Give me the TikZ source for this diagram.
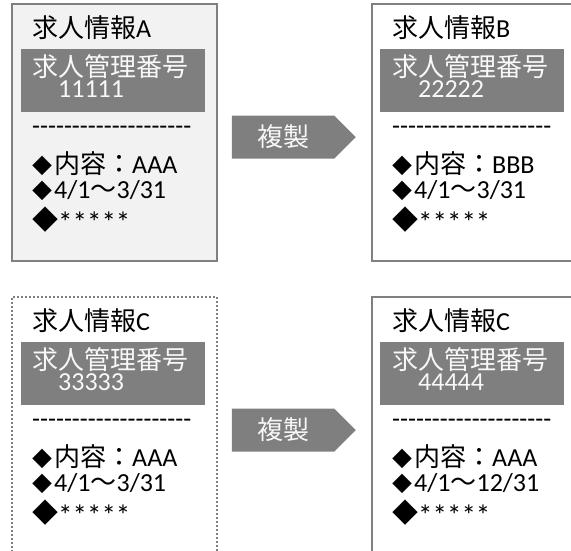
\documentclass[tikz,border=0pt]{standalone}
\usepackage{fontspec}
\setmainfont{Carlito}
\newfontfamily\jp{Noto Sans CJK JP}
\usetikzlibrary{shapes.symbols, positioning}
\definecolor{cardline}{RGB}{128,128,128}
\definecolor{cardfill}{RGB}{242,242,242}
\definecolor{bargray}{RGB}{127,127,127}
\definecolor{barwhite}{RGB}{248,248,248}
\newcommand\sepline{\foreach \k in {1,...,20}{-\kern0pt}}
\newcommand\dia{{\jp\fontsize{20}{24}\selectfont ◆\hspace{2pt}}}
\newcommand\bigdia{{\jp ◆}}
\newcommand\stars{\raisebox{-3pt}{\fontsize{29}{30}\selectfont *****}}

\begin{document}
\begin{tikzpicture}[x=1pt, y=-1pt,
  card/.style={draw=cardline, line width=1.8pt, anchor=north west, minimum width=205pt, minimum height=257pt, inner sep=0pt},
  idbar/.style={fill=bargray, anchor=north west, minimum width=184pt, minimum height=63pt, inner sep=0pt},
  txt/.style={anchor=base west, inner sep=0pt, font=\fontsize{26}{30}\selectfont},
  bartxt/.style={txt, text=barwhite},
  copyarrow/.style={signal, signal to=east, signal pointer angle=90, fill=bargray, text=barwhite, minimum width=124pt, minimum height=43pt, inner sep=0pt, font=\fontsize{26}{30}\selectfont\jp}
]
  \clip (0,0) rectangle (571,550);
  % upper row
  \node[card, fill=cardfill] (cardA) at (11,3) {};
  \node[idbar] (barA) at (21,49) {};
  \node[txt] (titleA) at (32,37) {{\jp 求人情報}A};
  \node[bartxt] (idA) at (32,76) {\jp 求人管理番号};
  \node[bartxt] (numA) at (58,97) {11111};
  \node[txt] (sepA) at (32,134) {\sepline};
  \node[txt] (itemA) at (32,173) {\dia{\jp 内容：}AAA};
  \node[txt] (dateA) at (32,198) {\dia 4/1{\jp ～}3/31};
  \node[txt] (restA) at (32,229) {\bigdia\stars};

  \node[copyarrow] (copyAB) at (283,137) {複製};

  \node[card] (cardB) at (371,3) {};
  \node[idbar] (barB) at (380,49) {};
  \node[txt] (titleB) at (392,37) {{\jp 求人情報}B};
  \node[bartxt] (idB) at (392,76) {\jp 求人管理番号};
  \node[bartxt] (numB) at (418,97) {22222};
  \node[txt] (sepB) at (392,134) {\sepline};
  \node[txt] (itemB) at (392,173) {\dia{\jp 内容：}BBB};
  \node[txt] (dateB) at (392,198) {\dia 4/1{\jp ～}3/31};
  \node[txt] (restB) at (392,229) {\bigdia\stars};

  % lower row
  \node[card, dash pattern=on 2pt off 2pt] (cardC) at (11,296) {};
  \node[idbar] (barC) at (21,342) {};
  \node[txt] (titleC) at (32,330) {{\jp 求人情報}C};
  \node[bartxt] (idC) at (32,369) {\jp 求人管理番号};
  \node[bartxt] (numC) at (58,390) {33333};
  \node[txt] (sepC) at (32,427) {\sepline};
  \node[txt] (itemC) at (32,466) {\dia{\jp 内容：}AAA};
  \node[txt] (dateC) at (32,491) {\dia 4/1{\jp ～}3/31};
  \node[txt] (restC) at (32,522) {\bigdia\stars};

  \node[copyarrow] (copyCD) at (283,430) {複製};

  \node[card] (cardD) at (371,296) {};
  \node[idbar] (barD) at (380,342) {};
  \node[txt] (titleD) at (392,330) {{\jp 求人情報}C};
  \node[bartxt] (idD) at (392,369) {\jp 求人管理番号};
  \node[bartxt] (numD) at (418,390) {44444};
  \node[txt] (sepD) at (392,427) {\sepline};
  \node[txt] (itemD) at (392,466) {\dia{\jp 内容：}AAA};
  \node[txt] (dateD) at (392,491) {\dia 4/1{\jp ～}12/31};
  \node[txt] (restD) at (392,522) {\bigdia\stars};
\end{tikzpicture}
\end{document}
